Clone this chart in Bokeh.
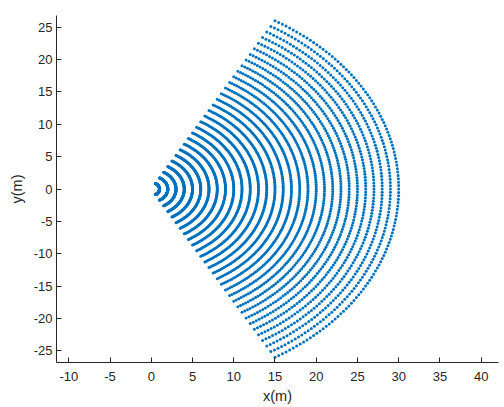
import numpy as np
from bokeh.plotting import figure
from bokeh.models import ColumnDataSource, Range1d, FixedTicker, PrintfTickFormatter
from bokeh.embed import file_html
from bokeh.resources import INLINE

# range bins (m) and azimuth sampling (deg)
ranges_m = [1, 2, 3, 4, 5, 6, 7, 8, 9, 10, 11, 12, 13, 14, 15,
            16, 17, 18, 19, 20, 21, 22, 23, 24, 25, 26, 27, 28, 29, 30]
angle_start_deg = -60
angle_stop_deg = 60
angle_step_deg = 1
angles_deg = np.arange(angle_start_deg, angle_stop_deg + angle_step_deg, angle_step_deg)

x_ticks = [-10, -5, 0, 5, 10, 15, 20, 25, 30, 35, 40]
y_ticks = [-25, -20, -15, -10, -5, 0, 5, 10, 15, 20, 25]

R, A = np.meshgrid(np.array(ranges_m, dtype=float), np.deg2rad(angles_deg))
xs = (R * np.cos(A)).ravel()
ys = (R * np.sin(A)).ravel()
src = ColumnDataSource(dict(x=xs, y=ys))

p = figure(width=502, height=407, output_backend="svg", toolbar_location=None,
           x_range=Range1d(-11.49, 42.1), y_range=Range1d(-26.8, 26.8),
           min_border_left=56, min_border_right=4, min_border_top=15, min_border_bottom=45)
p.outline_line_color = None
p.grid.visible = False
p.background_fill_color = "white"

p.scatter("x", "y", source=src, size=3, marker="circle", fill_color="#0072BD",
          line_color=None)

font = "Liberation Sans"
for ax, ticks, lab in ((p.xaxis, x_ticks, "x(m)"), (p.yaxis, y_ticks, "y(m)")):
    ax.ticker = FixedTicker(ticks=ticks)
    ax.formatter = PrintfTickFormatter(format="%d")
    ax.axis_label = lab
    ax.axis_label_text_font = font
    ax.axis_label_text_font_size = "14.5px"
    ax.axis_label_text_font_style = "normal"
    ax.axis_label_text_color = "#262626"
    ax.major_label_text_font = font
    ax.major_label_text_font_size = "13px"
    ax.major_label_text_color = "#262626"
    ax.axis_line_color = "#262626"
    ax.major_tick_line_color = "#262626"
    ax.major_tick_in = 5
    ax.major_tick_out = 0
    ax.minor_tick_line_color = None

p.xaxis.major_label_standoff = 9
p.yaxis.major_label_standoff = 4
p.xaxis.axis_label_standoff = 4
p.yaxis.axis_label_standoff = 6

open("out.html", "w").write(file_html(p, INLINE))
